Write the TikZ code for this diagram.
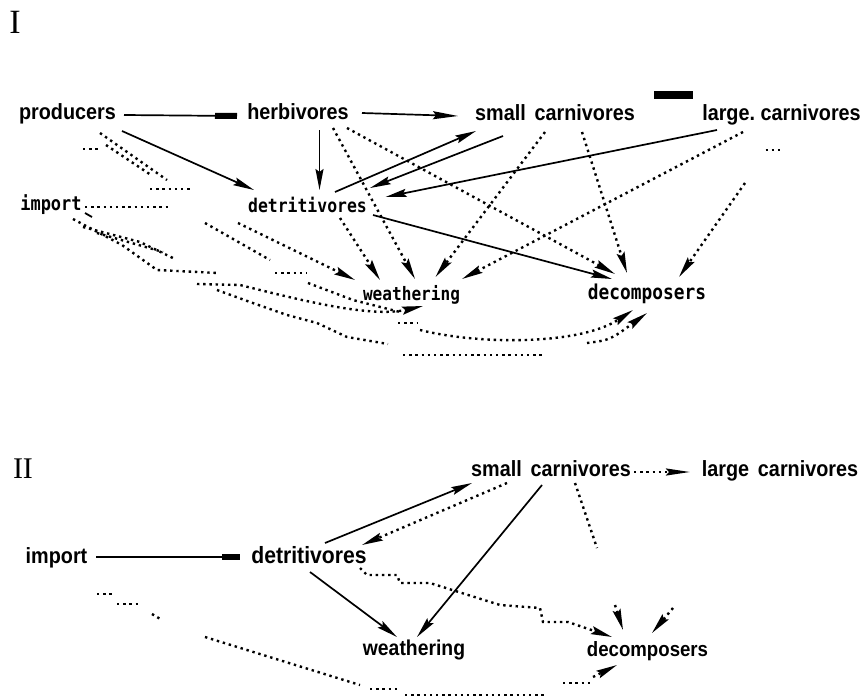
\documentclass[tikz,border=0pt]{standalone}
\usepackage{fontspec}
\usetikzlibrary{arrows.meta,calc}
\newfontfamily\lsans[FakeStretch=0.9]{Liberation Sans}
\newfontfamily\plotfont[FakeStretch=0.87]{DejaVu Sans Mono}
\newfontfamily\lserif{Liberation Serif}
\begin{document}
\begin{tikzpicture}[x=1pt,y=-1pt,
  lab/.style={font=\lsans\bfseries\fontsize{#1}{24}\selectfont, inner sep=0pt, anchor=base},
  lab/.default=22,
  plt/.style={font=\plotfont\bfseries\fontsize{#1}{20}\selectfont, inner sep=0pt, anchor=base},
  num/.style={font=\lserif\fontsize{#1}{36}\selectfont, inner sep=0pt, anchor=base},
  sline/.style={line width=1.7pt},
  dotline/.style={line width=2.4pt, dash pattern=on 2.4pt off 3.8pt},
  arr/.style={-{Stealth[length=21pt,width=8pt,inset=3pt]}},
  bartip/.style={-{Rectangle[length=22pt,width=6pt]}},
]
\useasboundingbox (0,0) rectangle (866,698);

% ---------------- Part I ----------------
\node[num=34] (numI) at (15,34) {I};
\node[lab] (prod) at (67.5,120) {producers};
\node[lab] (herb) at (298,120) {herbivores};
\node[lab] (smallI) at (555,121) {small\hspace{0.4em}carnivores};
\node[lab] (largeI) at (781.5,121) {large.\ carnivores};
\node[plt=18.9] (detI) at (307.5,212) {detritivores};
\node[plt=19.5] (impI) at (51,210) {import};
\node[plt=18.5] (weaI) at (411.5,300) {weathering};
\node[plt=20.5] (decI) at (647,299) {decomposers};

\fill (654,91) rectangle (693,99);

% solid connectors
\draw[sline,bartip] ($(prod.base)+(56.5,-5)$) -- ($(herb.base)+(-61,-4)$);
\draw[sline,-{Stealth[length=25pt,width=8pt,inset=3pt]}] ($(herb.base)+(64,-7)$) -- ($(smallI.base)+(-97,-5)$);
\draw[sline,arr] ($(prod.base)+(54.5,11)$) -- ($(detI.base)+(-53.5,-22)$);
\draw[sline,arr] ($(herb.base)+(21.5,10)$) -- ($(detI.base)+(12,-22)$);
\draw[sline,arr] ($(detI.base)+(27.5,-20)$) -- ($(smallI.base)+(-79,10)$);
\draw[sline,arr] ($(smallI.base)+(-52,15)$) -- ($(detI.base)+(62.5,-24)$);
\draw[sline,arr] ($(largeI.base)+(-64.5,9)$) -- ($(detI.base)+(78,-15)$);
\draw[sline,arr] ($(detI.base)+(65.5,3)$) -- ($(decI.base)+(-35,-20)$);

% dotted connectors
\draw[dotline,arr] ($(herb.base)+(35,8)$) -- ($(weaI.base)+(3.5,-21)$);
\draw[dotline,arr] ($(detI.base)+(32.5,6)$) -- ($(weaI.base)+(-31.5,-20)$);
\draw[dotline,arr] ($(smallI.base)+(-10,11)$) -- ($(weaI.base)+(24,-23)$);
\draw[dotline,arr] ($(largeI.base)+(-38.5,11)$) -- ($(weaI.base)+(50.5,-21)$);
\draw[dotline,arr] ($(herb.base)+(49,8)$) -- ($(decI.base)+(-32,-25)$);
\draw[dotline,arr] ($(smallI.base)+(27,11)$) -- ($(decI.base)+(-20,-26)$);
\draw[dotline,arr] ($(largeI.base)+(-36.5,62)$) -- ($(decI.base)+(32,-22)$);
\draw[dotline] ($(largeI.base)+(-16,29)$) -- ++(18,0);

\draw[dotline,arr] ($(detI.base)+(-69.5,11)$) -- ($(weaI.base)+(-56.5,-20)$);
\draw[dotline] ($(detI.base)+(-102.5,11)$) -- ++(65,37);
\draw[dotline] ($(weaI.base)+(-136.5,-27)$) -- ++(32,0);
\draw[dotline] ($(weaI.base)+(-103.5,-17)$) -- ++(45,17) -- ++(47,12);

% fragments from producers
\draw[dotline] ($(prod.base)+(32.5,13)$) -- ++(67,47);
\draw[dotline] ($(prod.base)+(38.5,25)$) -- ++(45,30);
\draw[dotline] ($(prod.base)+(15.5,29)$) -- ++(17,0);
\draw[dotline] ($(prod.base)+(82.5,69)$) -- ++(42,0);

% fragments from import
\draw[dotline] ($(impI.base)+(34,-3)$) -- ++(83,0);
\draw[line width=1.8pt] ($(impI.base)+(34,3)$) -- ++(7,4);
\draw[dotline] ($(impI.base)+(22,9)$) -- ++(49,26) -- ++(35,25) -- ++(61,3);
\draw[dotline] ($(impI.base)+(32,17)$) -- ++(57,15) -- ++(35,17);
\draw[dotline] ($(impI.base)+(46,23)$) -- ++(66,19);
\draw[dotline] ($(impI.base)+(166,80)$) -- ++(33,12) -- ++(37,13) -- ++(30,8) -- ++(30,14) -- ++(41,7);
\draw[dotline,arr] ($(impI.base)+(146,74)$) -- ++(43,1) .. controls (300,300) and (370,318) .. ($(weaI.base)+(11.5,6)$);

% bottom curves to decomposers
\draw[dotline] ($(weaI.base)+(-13.5,23)$) -- ++(19,0);
\draw[dotline,arr] ($(weaI.base)+(8.5,30)$) .. controls (480,345) and (580,345) .. ($(decI.base)+(-14,11)$);
\draw[dotline,arr] ($(decI.base)+(-60,44)$) .. controls (610,340) .. ($(decI.base)+(0,14)$);
\draw[dotline] ($(weaI.base)+(-8.5,55)$) -- ++(140,0);

% ---------------- Part II ----------------
\node[num=30] (numII) at (23,478) {II};
\node[lab] (smallII) at (551,476) {small\hspace{0.4em}carnivores};
\node[lab] (largeII) at (780,476) {large\hspace{0.4em}carnivores};
\node[lab] (impII) at (56.5,563) {import};
\node[lab=23.5] (detII) at (309,563) {detritivores};
\node[lab=21.5] (weaII) at (414,655) {weathering};
\node[lab=20.7] (decII) at (647.5,656) {decomposers};

\draw[sline,-{Rectangle[length=18pt,width=6pt]}] ($(impII.base)+(39.5,-6)$) -- ($(detII.base)+(-69,-6)$);
\draw[sline,arr] ($(detII.base)+(16,-20)$) -- ($(smallII.base)+(-79,7)$);
\draw[dotline,arr] ($(smallII.base)+(-44,7)$) -- ($(detII.base)+(53,-18)$);
\draw[sline,arr] ($(smallII.base)+(-9,9)$) -- ($(weaII.base)+(3,-18)$);
\draw[sline,arr] ($(detII.base)+(1,9)$) -- ($(weaII.base)+(-17,-18)$);
\draw[dotline] ($(smallII.base)+(24,7)$) -- ($(smallII.base)+(46,72)$);
\draw[dotline,arr] ($(decII.base)+(-32.5,-51)$) -- ($(decII.base)+(-24.5,-26)$);
\draw[dotline,arr] ($(decII.base)+(25.5,-48)$) -- ($(decII.base)+(4.5,-23)$);
\draw[dotline,arr] ($(detII.base)+(51,5)$) -- ++(7,7) -- ++(30,0) -- ++(3,8) -- ++(30,0) -- ++(70,22) -- ++(40,3) -- ++(3,14) -- ++(25,0) -- ($(decII.base)+(-35.5,-19)$);
\draw[dotline,-{Stealth[length=24pt,width=7pt,inset=3pt]}] ($(smallII.base)+(83,-4)$) -- ($(largeII.base)+(-90,-4)$);

% bottom fragments
\draw[dotline] ($(impII.base)+(40.5,31)$) -- ++(16,0);
\draw[dotline] ($(impII.base)+(60.5,41)$) -- ++(23,0);
\draw[dotline] ($(impII.base)+(95.5,51)$) -- ++(10,6);
\draw[dotline] ($(impII.base)+(148.5,74)$) -- ($(weaII.base)+(-54,30)$);
\draw[dotline] ($(weaII.base)+(-44,34)$) -- ++(27,0);
\draw[dotline] ($(weaII.base)+(-9,40)$) -- ++(140,0);
\draw[dotline] ($(decII.base)+(-84.5,27)$) -- ++(30,0);
\draw[dotline,arr] ($(decII.base)+(-54.5,21)$) -- ($(decII.base)+(-30.5,9)$);
\end{tikzpicture}
\end{document}
